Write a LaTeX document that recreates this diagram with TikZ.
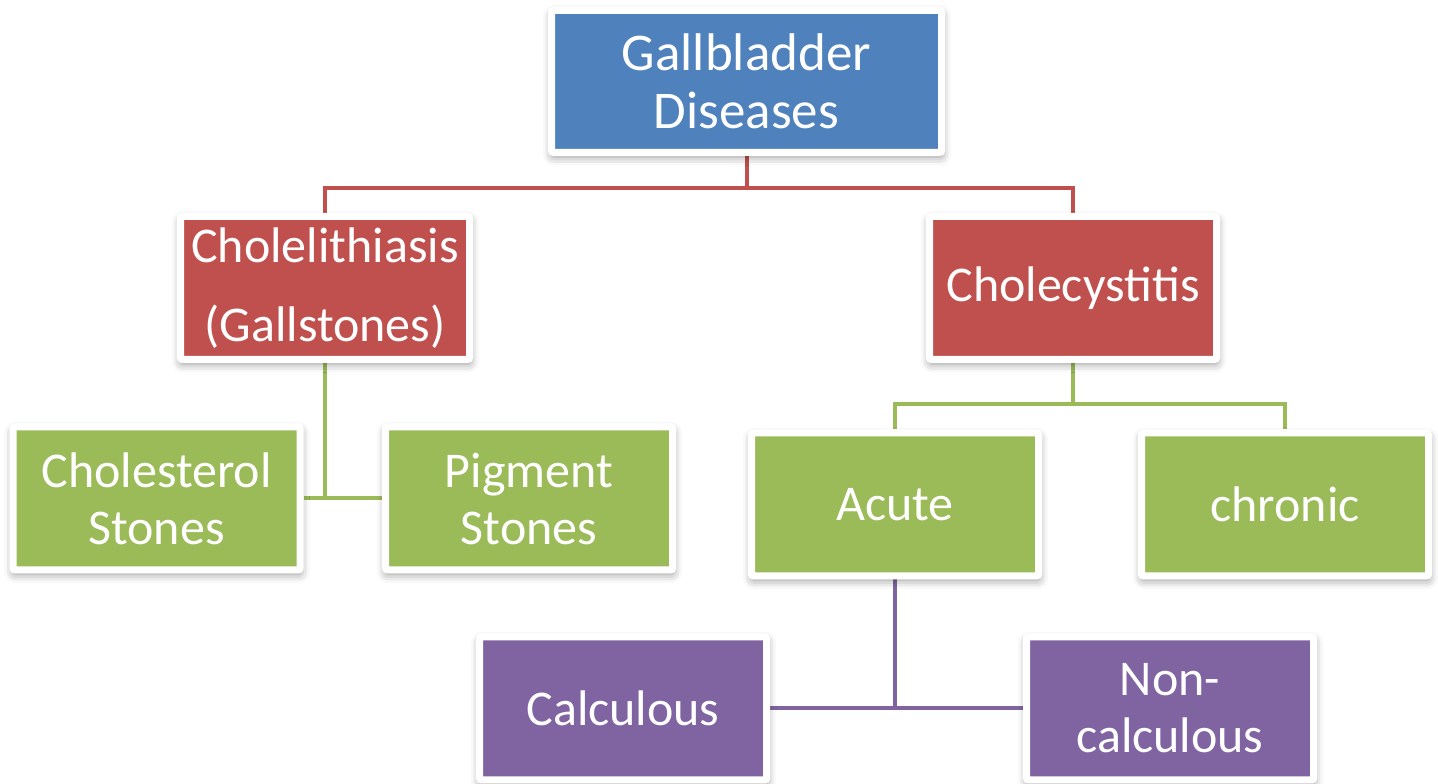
\documentclass[tikz,border=0pt]{standalone}
\usepackage{fontspec}
\setmainfont{Carlito}
\usepackage{tikz}
\usetikzlibrary{positioning,shadows.blur,backgrounds}
\definecolor{gblue}{HTML}{4F81BD}
\definecolor{gred}{HTML}{C0504D}
\definecolor{ggreen}{HTML}{9BBB59}
\definecolor{gpurple}{HTML}{8064A2}
\tikzset{
  box/.style={fill=#1, draw=white, line width=7pt, rounded corners=2pt,
              text=white, align=center, inner sep=0pt,
              minimum width=287pt, minimum height=143pt,
              font=\fontsize{50}{57}\selectfont,
              blur shadow={shadow xshift=0.5pt, shadow yshift=-4pt,
                           shadow blur radius=9pt, shadow opacity=45}},
  link/.style={line width=4pt, draw=#1}
}
\begin{document}
\begin{tikzpicture}[x=1pt, y=1pt]
  \useasboundingbox (0,0) rectangle (1438,784);
  % top level
  \node[box=gblue, minimum width=390pt, minimum height=142pt,
        font=\fontsize{53}{58}\selectfont] (gall) at (746.5,702.5)
    {Gallbladder\\Diseases};
  % second level
  \node[box=gred, minimum width=289pt] (lith) at (325,496) {Cholelithiasis\\[22pt](Gallstones)};
  \node[box=gred] (cyst) at (1073,496) {Cholecystitis};
  % stones
  \node[box=ggreen] (chol) at (156.5,285.5) {Cholesterol\\Stones};
  \node[box=ggreen] (pigm) at (529,285.5) {Pigment\\Stones};
  % acute / chronic
  \node[box=ggreen] (acute) at (895,279.5) {Acute};
  \node[box=ggreen] (chron) at (1285,279.5) {chronic};
  % acute types
  \node[box=gpurple] (calc) at (623,75.5) {Calculous};
  \node[box=gpurple] (noncalc) at (1170,75.5) {Non-\\calculous};

  \begin{scope}[on background layer]
    \draw[link=gred] (gall.south) -- ++(0,-32) coordinate (rj) -| (lith.north);
    \draw[link=gred] (rj) -| (cyst.north);
    \draw[link=ggreen] (lith.south) |- (chol.east);
    \draw[link=ggreen] (lith.south) |- (pigm.west);
    \draw[link=ggreen] (cyst.south) -- ++(0,-41) coordinate (gj) -| (acute.north);
    \draw[link=ggreen] (gj) -| (chron.north);
    \draw[link=gpurple] (acute.south) |- (calc.east);
    \draw[link=gpurple] (acute.south) |- (noncalc.west);
  \end{scope}
\end{tikzpicture}
\end{document}
